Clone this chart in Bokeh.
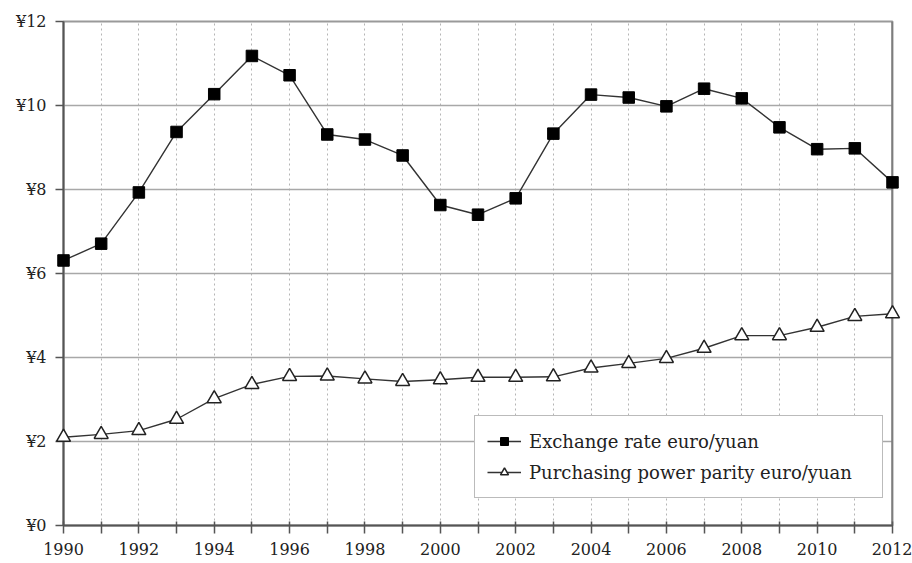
from bokeh.plotting import figure
from bokeh.models import Range1d, FixedTicker, Span, Legend, LegendItem
from bokeh.embed import file_html
from bokeh.resources import INLINE

years = list(range(1990, 2013))
exchange_rate = [6.31, 6.71, 7.93, 9.37, 10.27, 11.18, 10.72, 9.31, 9.19, 8.81, 7.63, 7.40, 7.79,
                 9.33, 10.26, 10.19, 9.98, 10.40, 10.17, 9.48, 8.96, 8.98, 8.17]
ppp = [2.10, 2.17, 2.26, 2.53, 3.02, 3.36, 3.55, 3.56, 3.49, 3.43, 3.47, 3.53, 3.53,
       3.54, 3.75, 3.86, 3.98, 4.22, 4.52, 4.52, 4.72, 4.98, 5.04]
y_ticks = [0, 2, 4, 6, 8, 10, 12]
y_tick_labels = ["¥0", "¥2", "¥4", "¥6", "¥8", "¥10", "¥12"]
x_label_years = list(range(1990, 2013, 2))
series_names = ["Exchange rate euro/yuan", "Purchasing power parity euro/yuan"]

FONT = "DejaVu Serif"

p = figure(width=912, height=563, output_backend="svg", toolbar_location=None,
           x_range=Range1d(years[0], years[-1]), y_range=Range1d(0, 12),
           min_border_left=63, min_border_right=20, min_border_top=21, min_border_bottom=38)
p.outline_line_color = "#9a9a9a"
p.outline_line_width = 2
p.background_fill_color = "white"
p.border_fill_color = "white"

# horizontal grid lines (solid)
p.ygrid.ticker = FixedTicker(ticks=y_ticks)
p.ygrid.grid_line_color = "#a8a8a8"
p.ygrid.grid_line_width = 1.6

# vertical dotted grid
p.xgrid.ticker = FixedTicker(ticks=years)
p.xgrid.grid_line_color = "#b5b5b5"
p.xgrid.grid_line_dash = "2 3"
p.xgrid.grid_line_width = 1

# right border
p.add_layout(Span(location=years[-1], dimension="height", line_color="#606060", line_width=2))

# axes
p.yaxis.ticker = FixedTicker(ticks=y_ticks)
p.yaxis.major_label_overrides = {t: l for t, l in zip(y_ticks, y_tick_labels)}
p.yaxis.minor_tick_line_color = None
p.yaxis.major_tick_in = 0
p.yaxis.major_tick_out = 8
p.yaxis.axis_line_color = "#555555"
p.yaxis.axis_line_width = 2
p.yaxis.major_tick_line_color = "#555555"
p.yaxis.major_tick_line_width = 1.5
p.yaxis.major_label_standoff = 9
p.yaxis.major_label_text_font = FONT
p.yaxis.major_label_text_font_size = "16px"
p.yaxis.major_label_text_color = "#222222"

p.xaxis.ticker = FixedTicker(ticks=years)
p.xaxis.major_label_overrides = {y: (str(y) if y in x_label_years else "") for y in years}
p.xaxis.minor_tick_line_color = None
p.xaxis.major_tick_in = 4
p.xaxis.major_tick_out = 8
p.xaxis.axis_line_color = "#555555"
p.xaxis.axis_line_width = 2
p.xaxis.major_tick_line_color = "#555555"
p.xaxis.major_tick_line_width = 1.5
p.xaxis.major_label_standoff = 9
p.xaxis.major_label_text_font = FONT
p.xaxis.major_label_text_font_size = "16px"
p.xaxis.major_label_text_color = "#222222"

# series (markers drawn at overlay level so the edge markers are not clipped)
l1 = p.line(years, exchange_rate, line_color="#333333", line_width=1.4)
s1 = p.scatter(years, exchange_rate, marker="square", size=11.5,
               fill_color="black", line_color="black", level="overlay")
l2 = p.line(years, ppp, line_color="#333333", line_width=1.4)
s2 = p.scatter(years, ppp, marker="triangle", size=14,
               fill_color="white", line_color="#222222", line_width=1.5, level="overlay")

legend = Legend(items=[LegendItem(label=series_names[0], renderers=[l1, s1]),
                       LegendItem(label=series_names[1], renderers=[l2, s2])],
                location=(411, 27))
legend.label_text_font = FONT
legend.label_text_font_size = "18px"
legend.label_text_color = "#222222"
legend.border_line_color = "#777777"
legend.border_line_width = 1.5
legend.background_fill_color = "white"
legend.background_fill_alpha = 1
legend.padding = 12
legend.spacing = 5
legend.label_height = 26
legend.glyph_height = 20
legend.glyph_width = 34
legend.label_standoff = 8
legend.label_width = 341
legend.margin = 0
p.add_layout(legend, "center")

open("out.html", "w").write(file_html(p, INLINE))
